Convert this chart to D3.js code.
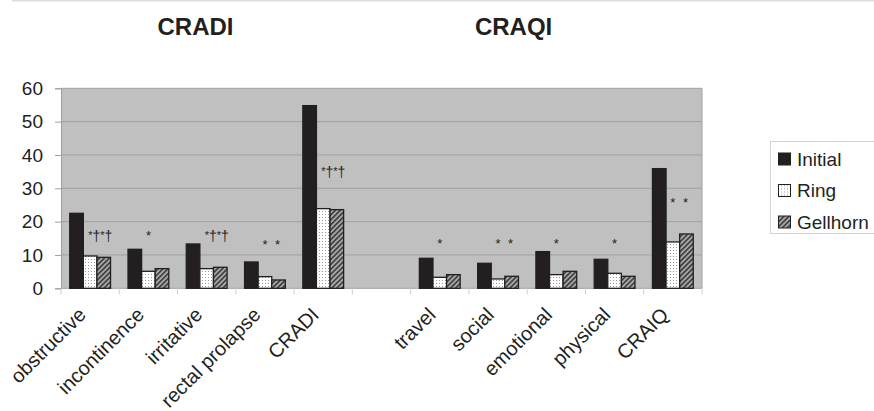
<!DOCTYPE html>
<html>
<head>
<meta charset="utf-8">
<script src="https://cdn.jsdelivr.net/npm/d3@7/dist/d3.min.js"></script>
<style>
  html, body { margin: 0; padding: 0; background: #fff; }
  svg { display: block; font-family: Arial, "Liberation Sans", sans-serif; }
</style>
</head>
<body>
<svg id="chart" width="874" height="411"></svg>
<script>
// Categories (empty slot separates the two questionnaires)
const categories = ["obstructive", "incontinence", "irritative", "rectal prolapse", "CRADI", "",
                    "travel", "social", "emotional", "physical", "CRAIQ"];
const seriesNames = ["Initial", "Ring", "Gellhorn"];
const initialValues  = [22.5, 11.7, 13.3, 7.9, 54.8, null, 9.0, 7.5, 11.0, 8.7, 35.9];
const ringValues     = [9.7, 5.1, 5.9, 3.5, 23.9, null, 3.3, 2.8, 4.1, 4.5, 13.9];
const gellhornValues = [9.3, 5.9, 6.3, 2.5, 23.6, null, 4.1, 3.6, 5.1, 3.6, 16.3];
// Significance marks and the level they sit at
const marks      = ["*†*†", "*", "*†*†", "* *", "*†*†", "", "*", "* *", "*", "*", "* *"];
const markLevels = [14.3, 14.6, 14.3, 11.9, 33.5, null, 12.1, 12.1, 12.1, 12.1, 24.4];
const yTicks = [0, 10, 20, 30, 40, 50, 60];
const panelTitles = ["CRADI", "CRAQI"];

const svg = d3.select("#chart");
const plot = { left: 61, right: 702, top: 88.3, bottom: 288.3 };

const x = d3.scaleBand().domain(d3.range(categories.length))
  .range([plot.left, plot.right]).paddingInner(0.3).paddingOuter(0.15);
const slot = d3.scaleBand().domain(d3.range(categories.length))
  .range([plot.left, plot.right]);
const xSeries = d3.scaleBand().domain(seriesNames).range([0, x.bandwidth()]);
const y = d3.scaleLinear().domain([0, 60]).range([plot.bottom, plot.top]);

// Patterns
const defs = svg.append("defs");
const dots = defs.append("pattern").attr("id", "dots")
  .attr("patternUnits", "userSpaceOnUse").attr("width", 3).attr("height", 3);
dots.append("rect").attr("width", 3).attr("height", 3).attr("fill", "#ffffff");
dots.append("rect").attr("x", 1).attr("y", 1).attr("width", 1).attr("height", 1).attr("fill", "#9a9a9a");
const hatch = defs.append("pattern").attr("id", "hatch")
  .attr("patternUnits", "userSpaceOnUse").attr("width", 3.5).attr("height", 3.5)
  .attr("patternTransform", "rotate(45)");
hatch.append("rect").attr("width", 3.5).attr("height", 3.5).attr("fill", "#a8a8a8");
hatch.append("rect").attr("width", 1.6).attr("height", 3.5).attr("fill", "#3a3a3a");

const fills = { Initial: "#231f20", Ring: "url(#dots)", Gellhorn: "url(#hatch)" };

// Thin border across the top
svg.append("line").attr("x1", 12).attr("x2", 874).attr("y1", 0.75).attr("y2", 0.75)
  .attr("stroke", "#d9dee5").attr("stroke-width", 1.5);

// Titles
svg.selectAll("text.title").data(panelTitles).enter().append("text")
  .attr("class", "title")
  .attr("x", (d, i) => [195.5, 513.6][i]).attr("y", 34.7)
  .attr("text-anchor", "middle").attr("font-size", 24).attr("font-weight", "bold")
  .attr("fill", "#231f20").text(d => d);

// Plot background
svg.append("rect").attr("x", plot.left).attr("y", plot.top)
  .attr("width", plot.right - plot.left).attr("height", plot.bottom - plot.top)
  .attr("fill", "#c0c0c0");

// Gridlines
svg.append("g").selectAll("line").data(yTicks.filter(t => t > 0)).enter().append("line")
  .attr("x1", plot.left).attr("x2", plot.right)
  .attr("y1", d => y(d)).attr("y2", d => y(d))
  .attr("stroke", "#a0a0a0").attr("stroke-width", 1);

// Plot frame (right edge)
svg.append("line").attr("x1", plot.right).attr("x2", plot.right)
  .attr("y1", plot.top).attr("y2", plot.bottom).attr("stroke", "#a0a0a0");

// Y axis
const yAxis = svg.append("g").attr("transform", `translate(${plot.left},0)`)
  .call(d3.axisLeft(y).tickValues(yTicks).tickSize(6).tickPadding(12));
yAxis.select(".domain").attr("stroke", "#a0a0a0");
yAxis.selectAll(".tick line").attr("stroke", "#a0a0a0");
yAxis.selectAll(".tick text").attr("font-size", 19).attr("fill", "#231f20")
  .attr("font-family", "Arial, 'Liberation Sans', sans-serif");

// X axis: ticks at slot boundaries
const boundaries = d3.range(categories.length + 1).map(i =>
  i < categories.length ? slot(i) : slot(categories.length - 1) + slot.bandwidth());
svg.append("line").attr("x1", plot.left).attr("x2", plot.right)
  .attr("y1", plot.bottom).attr("y2", plot.bottom).attr("stroke", "#a0a0a0");
svg.append("g").selectAll("line").data(boundaries).enter().append("line")
  .attr("x1", d => d).attr("x2", d => d)
  .attr("y1", plot.bottom).attr("y2", plot.bottom + 6)
  .attr("stroke", "#d0d0d0");

// Category labels, rotated 45 degrees and ending under each group
svg.append("g").selectAll("text").data(categories).enter().append("text")
  .attr("transform", (d, i) => `translate(${slot(i) + slot.bandwidth() / 2 - 3},316) rotate(-45)`)
  .attr("text-anchor", "end").attr("font-size", 20).attr("fill", "#231f20")
  .text(d => d);

// Bars
const valuesBySeries = { Initial: initialValues, Ring: ringValues, Gellhorn: gellhornValues };
const bars = [];
seriesNames.forEach(s => valuesBySeries[s].forEach((v, i) => {
  if (v !== null) bars.push({ series: s, i, value: v });
}));
svg.append("g").selectAll("rect").data(bars).enter().append("rect")
  .attr("x", d => x(d.i) + xSeries(d.series))
  .attr("y", d => y(d.value))
  .attr("width", xSeries.bandwidth())
  .attr("height", d => y(0) - y(d.value))
  .attr("fill", d => fills[d.series])
  .attr("stroke", "#231f20").attr("stroke-width", 1.3);

// Significance marks
const markG = svg.append("g").attr("fill", "#231f20")
  .attr("font-family", "'Liberation Sans', Arial, sans-serif");
marks.forEach((m, i) => {
  if (!m) return;
  const ringCenter = x(i) + xSeries("Ring") + xSeries.bandwidth() / 2;
  const by = y(markLevels[i]);
  if (m.includes("†")) {
    const t = markG.append("text").attr("x", ringCenter - 2).attr("y", by);
    for (let k = 0; k < m.length; k++) {
      const ch = m[k];
      t.append("tspan").attr("font-size", ch === "*" ? 11 : 14)
        .attr("dy", ch === "*" ? -2 : 2).attr("fill", "#231f20").text(ch);
    }
  } else {
    m.split(" ").forEach((tok, k) => {
      const s = seriesNames[1 + k];
      markG.append("text")
        .attr("x", x(i) + xSeries(s) + xSeries.bandwidth() / 2 - (k ? 1 : 0))
        .attr("y", by).attr("text-anchor", "middle").attr("font-size", 13).text(tok);
    });
  }
});

// Legend
const legend = svg.append("g");
legend.append("rect").attr("x", 770.5).attr("y", 141.5).attr("width", 120).attr("height", 92)
  .attr("fill", "#fff").attr("stroke", "#d4d4d4");
const items = legend.selectAll("g").data(seriesNames).enter().append("g")
  .attr("transform", (d, i) => `translate(0,${159 + i * 31.5})`);
items.append("rect").attr("x", 778.5).attr("y", -6).attr("width", 12).attr("height", 12)
  .attr("fill", d => fills[d]).attr("stroke", "#231f20").attr("stroke-width", 1);
items.append("text").attr("x", 797).attr("y", 6.8).attr("font-size", 19)
  .attr("fill", "#231f20").text(d => d);
</script>
</body>
</html>
